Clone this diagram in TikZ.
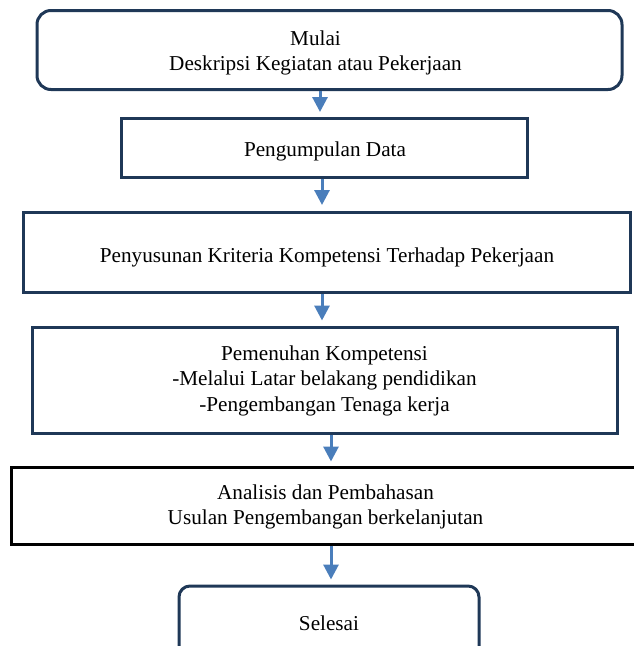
\documentclass[tikz,border=0pt]{standalone}
\usepackage{fontspec}
\setmainfont{Liberation Serif}
\usetikzlibrary{arrows.meta}
\definecolor{navy}{HTML}{1F3857}
\definecolor{arrowblue}{HTML}{4A7EBB}
\tikzset{
  box/.style={draw=navy, line width=3pt, fill=white, align=center, inner sep=0pt,
    font=\fontsize{21.2}{25.5}\selectfont},
  rbox/.style={box, rounded corners=14pt},
  txt/.style={align=center, inner sep=0pt, font=\fontsize{21.2}{25.5}\selectfont},
  flow/.style={draw=arrowblue, line width=3pt, -{Triangle[width=15pt,length=15pt]}}
}
\begin{document}
\begin{tikzpicture}[x=1pt,y=-1pt]
\useasboundingbox (0,0) rectangle (633,646);
\node[rbox, minimum width=585, minimum height=79] (b1) at (329.5,50) {};
\node[txt] (t1) at (315.5,53) {Mulai\\Deskripsi Kegiatan atau Pekerjaan};
\node[box, minimum width=406, minimum height=59] (b2) at (324,148) {};
\node[txt] (t2) at (325,151.5) {Pengumpulan Data};
\node[box, minimum width=607, minimum height=80] (b3) at (326.5,252.5) {};
\node[txt] (t3) at (327,257) {Penyusunan Kriteria Kompetensi Terhadap Pekerjaan};
\node[box, minimum width=585, minimum height=106] (b4) at (324.5,380) {};
\node[txt] (t4) at (324.5,380.5) {Pemenuhan Kompetensi\\-Melalui Latar belakang pendidikan\\-Pengembangan Tenaga kerja};
\node[box, draw=black, minimum width=640, minimum height=77] (b5) at (331,505.5) {};
\node[txt] (t5) at (325.5,507) {Analisis dan Pembahasan\\Usulan Pengembangan berkelanjutan};
\node[rbox, minimum width=300, minimum height=80, rounded corners=11pt] (b6) at (329,626) {};
\node[txt] (t6) at (329,623) {Selesai};
\coordinate (c1) at (320,0);
\coordinate (c2) at (322,0);
\coordinate (c3) at (322,0);
\coordinate (c4) at (331,0);
\coordinate (c5) at (331,0);
\draw[flow, shorten >=5pt] (b1.south -| c1) -- (b2.north -| c1);
\draw[flow, shorten >=6pt] (b2.south -| c2) -- (b3.north -| c2);
\draw[flow, shorten >=5pt] (b3.south -| c3) -- (b4.north -| c3);
\draw[flow, shorten >=4pt] (b4.south -| c4) -- (b5.north -| c4);
\draw[flow, shorten >=5pt] (b5.south -| c5) -- (b6.north -| c5);
\end{tikzpicture}
\end{document}
